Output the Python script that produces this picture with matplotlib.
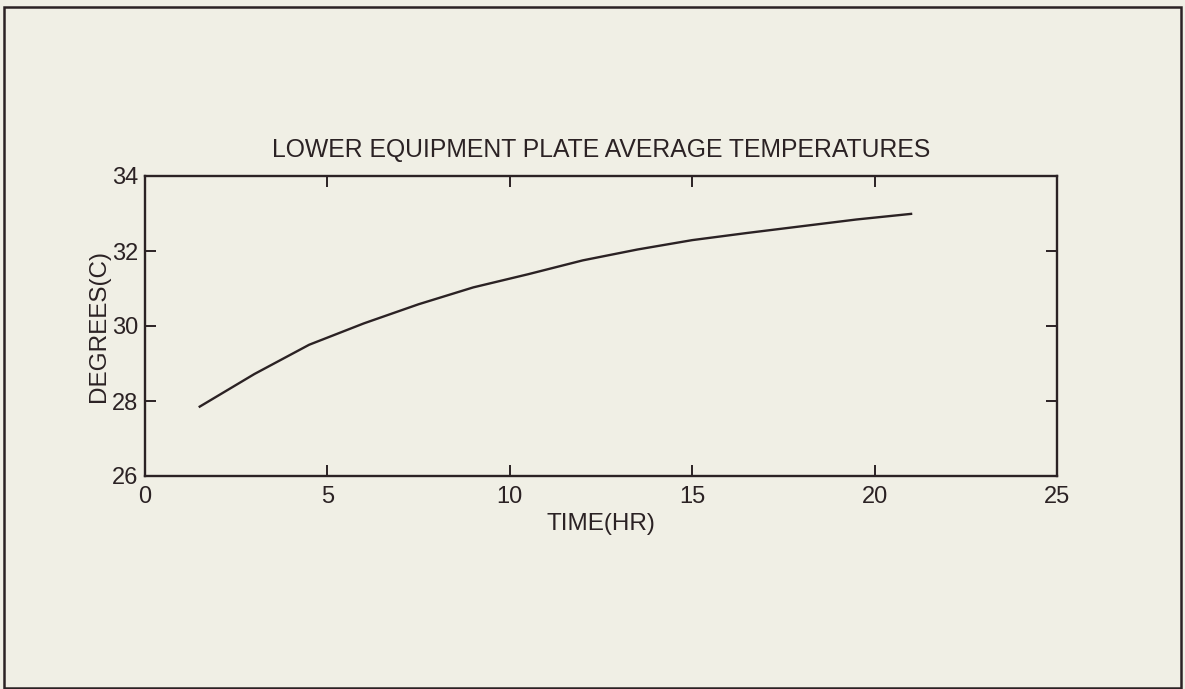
import matplotlib
matplotlib.use("Agg")
import matplotlib.pyplot as plt
from matplotlib.patches import Rectangle

# hours vs average plate temperature
time_hr = [1.5, 3.0, 4.5, 6.0, 7.5, 9.0, 10.5, 12.0, 13.5, 15.0, 16.5, 18.0, 19.5, 21.0]
temp_c = [27.85, 28.72, 29.50, 30.07, 30.58, 31.03, 31.38, 31.75, 32.04, 32.29, 32.48, 32.66, 32.84, 32.99]

x_ticks = [0, 5, 10, 15, 20, 25]
y_ticks = [26, 28, 30, 32, 34]

INK = "#2b2224"
PAPER = "#f0efe5"

plt.rcParams.update({
    "font.family": ["Liberation Sans", "DejaVu Sans"],
    "text.color": INK,
    "axes.labelcolor": INK,
    "xtick.color": INK,
    "ytick.color": INK,
})

fig = plt.figure(figsize=(11.85, 6.89), dpi=100, facecolor=PAPER)
ax = fig.add_axes([145 / 1185, 1 - 476 / 689, 912 / 1185, 300 / 689])
ax.set_facecolor(PAPER)

ax.plot(time_hr, temp_c, color=INK, linewidth=1.7)

ax.set_xlim(0, 25)
ax.set_ylim(26, 34)
ax.set_xticks(x_ticks)
ax.set_yticks(y_ticks)
ax.tick_params(direction="in", length=8, width=1.4, labelsize=17,
               top=True, right=True, pad=5)
ax.tick_params(axis="x", pad=7)
for s in ax.spines.values():
    s.set_linewidth(1.7)
    s.set_color(INK)

ax.set_title("LOWER EQUIPMENT PLATE AVERAGE TEMPERATURES", fontsize=17.8, pad=14)
ax.set_xlabel("TIME(HR)", fontsize=17.5, labelpad=4)
ax.set_ylabel("DEGREES(C)", fontsize=17.5, labelpad=1)

# page frame around the figure
fig.patches.append(Rectangle((4 / 1185, 1 / 689), 1177 / 1185, 681 / 689,
                             transform=fig.transFigure, fill=False,
                             edgecolor=INK, linewidth=1.8))

fig.savefig("out.png", dpi=100, facecolor=PAPER)
